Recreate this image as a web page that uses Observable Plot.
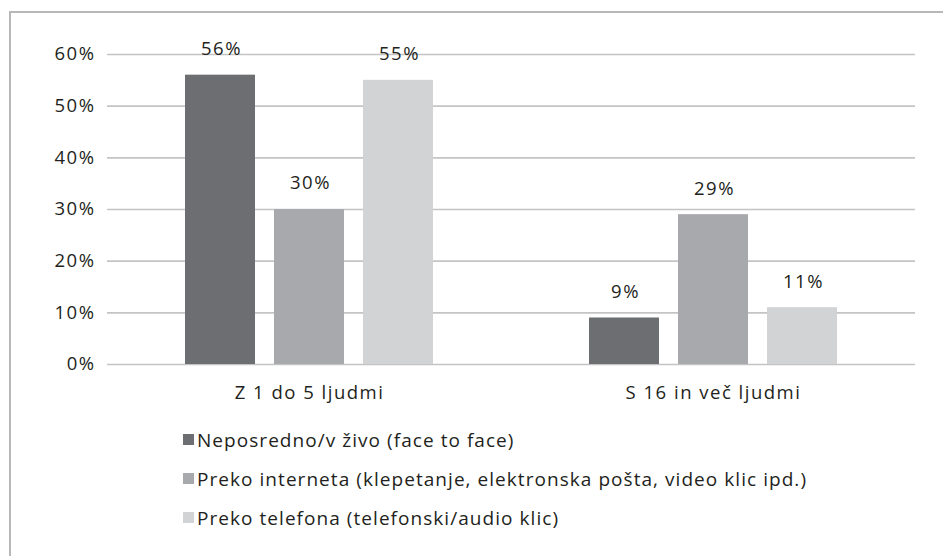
<!DOCTYPE html>
<html>
<head>
<meta charset="utf-8">
<script src="https://cdn.jsdelivr.net/npm/d3@7"></script>
<script src="https://cdn.jsdelivr.net/npm/@observablehq/plot@0.6"></script>
<style>
  html, body { margin: 0; padding: 0; background: #fff; }
  #wrap { position: relative; width: 943px; height: 556px; overflow: hidden; font-family: "Open Sans", sans-serif; color: #231f20; }
  #frame { position: absolute; left: 9px; top: 11px; width: 940px; height: 560px; border-left: 2px solid #b8b8b8; border-top: 2px solid #b8b8b8; box-sizing: border-box; }
  #chart { position: absolute; left: 0; top: 0; }
  #legend { position: absolute; left: 183px; top: 420px; font-size: 19px; letter-spacing: 1.05px; }
  .row { display: flex; align-items: center; height: 39px; }
  .sw { width: 11px; height: 11px; margin-right: 3px; flex: none; }
</style>
</head>
<body>
<div id="wrap">
  <div id="frame"></div>
  <div id="chart"></div>
  <div id="legend"></div>
</div>
<script>
const groups = ["Z 1 do 5 ljudmi", "S 16 in več ljudmi"];
const modes = [
  "Neposredno/v živo (face to face)",
  "Preko interneta (klepetanje, elektronska pošta, video klic ipd.)",
  "Preko telefona (telefonski/audio klic)"
];
const valuesGroup1 = [56, 30, 55];
const valuesGroup2 = [9, 29, 11];
const yTicks = [0, 10, 20, 30, 40, 50, 60];
const colors = ["#6d6e71", "#a7a9ac", "#d1d3d4"];

const data = [];
modes.forEach((m, i) => {
  data.push({group: groups[0], mode: m, value: valuesGroup1[i]});
  data.push({group: groups[1], mode: m, value: valuesGroup2[i]});
});

const chart = Plot.plot({
  width: 943,
  height: 410,
  marginLeft: 107,
  marginRight: 28,
  marginTop: 54,
  marginBottom: 46,
  style: {fontFamily: "'Open Sans', sans-serif", fontSize: "18.5px", letterSpacing: "1.5px", color: "#231f20", background: "transparent"},
  fx: {domain: groups, padding: 0},
  x: {domain: modes, paddingInner: 0.213, paddingOuter: 0.876, axis: null},
  y: {domain: [0, 60]},
  color: {domain: modes, range: colors},
  marks: [
    Plot.gridY(yTicks, {stroke: "#c4c4c4", strokeOpacity: 1, strokeWidth: 1.6}),
    Plot.axisY(yTicks, {tickSize: 0, tickPadding: 12, tickFormat: d => d + "%", label: null, fill: "#231f20"}),
    Plot.axisFx({anchor: "bottom", tickSize: 0, tickPadding: 21, label: null, fill: "#231f20", letterSpacing: "1.2px"}),
    Plot.barY(data, {fx: "group", x: "mode", y: "value", fill: "mode"}),
    Plot.text(data, {fx: "group", x: "mode", y: "value", text: d => d.value + "%", dy: -26, dx: 1, fill: "#231f20"})
  ]
});
document.getElementById("chart").appendChild(chart);

const legend = document.getElementById("legend");
modes.forEach((m, i) => {
  const row = document.createElement("div");
  row.className = "row";
  const sw = document.createElement("span");
  sw.className = "sw";
  sw.style.background = colors[i];
  const label = document.createElement("span");
  label.textContent = m;
  row.appendChild(sw);
  row.appendChild(label);
  legend.appendChild(row);
});
</script>
</body>
</html>
